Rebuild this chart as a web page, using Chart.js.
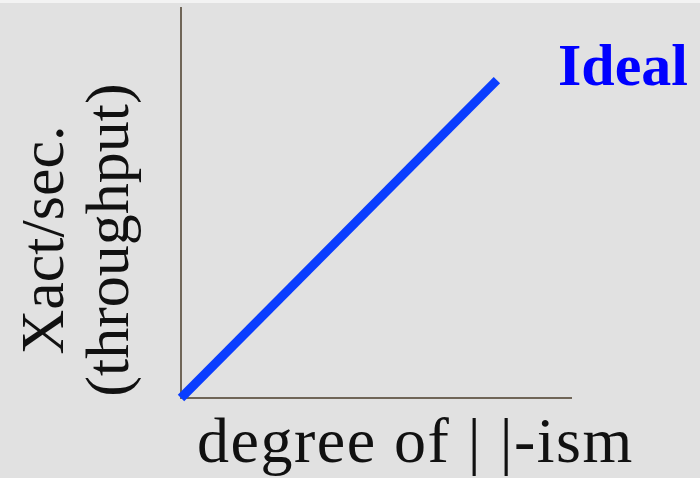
<!DOCTYPE html>
<html>
<head>
<meta charset="utf-8">
<script src="https://cdn.jsdelivr.net/npm/chart.js@4"></script>
<style>
  html, body { margin: 0; padding: 0; background: #e1e1e1; }
  #wrap { width: 700px; height: 478px; }
</style>
</head>
<body>
<div id="wrap"><canvas id="grafico"></canvas></div>
<script>
// datos de la curva ideal (escala relativa 0-100)
const xValues = [0, 81];
const yValues = [0, 81.5];
const serieLabel = "Ideal";
const xTitle = "degree of | |-ism";
const yTitle = ["Xact/sec.", "(throughput)"];

const ejeColor = "#6f6557";

// fondo gris con franja clara arriba
const fondoPlugin = {
  id: "fondo",
  beforeDraw(chart) {
    const ctx = chart.ctx;
    ctx.save();
    ctx.fillStyle = "#e1e1e1";
    ctx.fillRect(0, 0, chart.width, chart.height);
    ctx.fillStyle = "#f3f3f3";
    ctx.fillRect(0, 0, chart.width, 3);
    ctx.restore();
  }
};

// titulos de los ejes y etiqueta de la serie
const textosPlugin = {
  id: "textos",
  afterDraw(chart) {
    const ctx = chart.ctx;
    const area = chart.chartArea;
    ctx.save();
    ctx.fillStyle = "#111111";
    ctx.font = "62px 'Liberation Serif', serif";
    ctx.textAlign = "center";
    ctx.textBaseline = "alphabetic";
    const baseX = [63, 128];
    yTitle.forEach((linea, i) => {
      ctx.save();
      ctx.translate(baseX[i], area.bottom - 158);
      ctx.rotate(-Math.PI / 2);
      ctx.fillText(linea, 0, 0);
      ctx.restore();
    });

    // titulo eje X
    ctx.font = "64px 'Liberation Serif', serif";
    ctx.textAlign = "left";
    ctx.letterSpacing = "1.5px";
    ctx.fillText(xTitle, area.left + 16, area.bottom + 64);
    ctx.letterSpacing = "0px";

    ctx.fillStyle = "#0000ff";
    ctx.font = "bold 60px 'Liberation Serif', serif";
    ctx.fillText(chart.data.datasets[0].label, 558, 85);
    ctx.restore();
  }
};

new Chart(document.getElementById("grafico"), {
  type: "line",
  data: {
    labels: xValues,
    datasets: [{
      label: serieLabel,
      data: xValues.map((x, i) => ({ x: x, y: yValues[i] })),
      borderColor: "#0a3dff",
      borderWidth: 9,
      pointRadius: 0,
      fill: false,
      tension: 0,
      clip: false
    }]
  },
  options: {
    responsive: true,
    maintainAspectRatio: false,
    animation: false,
    layout: {
      padding: { left: 181, top: 8, right: 129, bottom: 80 }
    },
    plugins: {
      legend: { display: false },
      tooltip: { enabled: false }
    },
    scales: {
      x: {
        type: "linear",
        min: 0,
        max: 100,
        grid: { display: false, drawTicks: false },
        ticks: { display: false },
        border: { display: true, color: ejeColor, width: 2 }
      },
      y: {
        type: "linear",
        min: 0,
        max: 100,
        grid: { display: false, drawTicks: false },
        ticks: { display: false },
        border: { display: true, color: ejeColor, width: 2 }
      }
    }
  },
  plugins: [fondoPlugin, textosPlugin]
});
</script>
</body>
</html>
